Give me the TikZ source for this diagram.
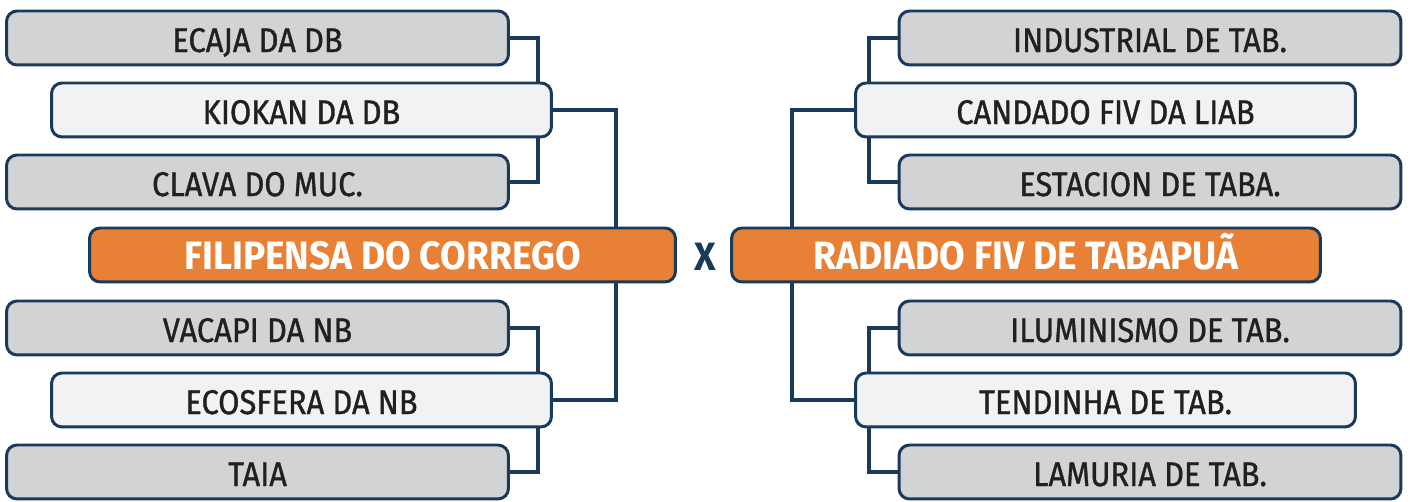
\documentclass[tikz,border=0pt]{standalone}
\usepackage{fontspec}
\setmainfont{Fira Sans}[FakeStretch=0.9, FakeBold=1]
\newfontfamily\finalfont{Fira Sans}[FakeStretch=0.94]
\usepackage{xcolor}
\usepackage{tikz}
\usetikzlibrary{backgrounds}

\definecolor{boxgray}{HTML}{D1D3D4}
\definecolor{boxlight}{HTML}{F1F2F4}
\definecolor{boxorange}{HTML}{E88135}
\definecolor{navy}{HTML}{1A3A5B}
\definecolor{ink}{HTML}{231F20}

\begin{document}
\begin{tikzpicture}[x=0.02cm, y=-0.02cm, line width=1.7pt,
    team/.style={draw=navy, rounded corners=6pt, minimum height=1.08cm,
        inner sep=0pt, outer sep=0pt, text=ink, text height=16pt, text depth=0pt,
        font=\fontsize{19.5}{20}\selectfont},
    outer/.style={team, fill=boxgray, minimum width=10.04cm},
    inner/.style={team, fill=boxlight, minimum width=10.0cm},
    final/.style={team, fill=boxorange, text=white,
        font=\finalfont\fontsize{22.5}{23}\selectfont\bfseries},
    link/.style={navy, line width=2.3pt}]

    % ==========================================
    % Frame of the picture
    % ==========================================
    \useasboundingbox (0,0) rectangle (1410,502);

    % ==========================================
    % Left side
    % ==========================================
    \node[outer] (ecaja) at (257.5,38) {ECAJA DA DB};
    \node[inner] (kiokan) at (301.5,110) {KIOKAN DA DB};
    \node[outer] (clava) at (257.5,182) {CLAVA DO MUC.};

    % Finalist
    \node[final, minimum width=11.72cm] (filipensa) at (382.5,255) {FILIPENSA DO CORREGO};

    \node[outer] (vacapi) at (257.5,328) {VACAPI DA NB};
    \node[inner] (ecosfera) at (301.5,400) {ECOSFERA DA NB};
    \node[outer] (taia) at (257.5,472) {TAIA};

    % ==========================================
    % Versus sign
    % ==========================================
    \node[text=navy, inner sep=0pt, font=\finalfont\fontsize{22.5}{23}\selectfont\bfseries] (versus) at (705,257) {X};

    % ==========================================
    % Right side
    % ==========================================
    \node[outer] (industrial) at (1150,38) {INDUSTRIAL DE TAB.};
    \node[inner] (candado) at (1105.5,110) {CANDADO FIV DA LIAB};
    \node[outer] (estacion) at (1150,182) {ESTACION DE TABA.};

    % Finalist
    \node[final, minimum width=11.78cm] (radiado) at (1026,255) {RADIADO FIV DE TABAPUÃ};

    \node[outer] (iluminismo) at (1150,328) {ILUMINISMO DE TAB.};
    \node[inner] (tendinha) at (1105.5,400) {TENDINHA DE TAB.};
    \node[outer] (lamuria) at (1150,472) {LAMURIA DE TAB.};

    % ==========================================
    % Bracket lines (behind the boxes)
    % ==========================================
    \coordinate (leftjoin) at (616,0);
    \coordinate (rightjoin) at (792,0);

    \begin{pgfonlayer}{background}
        % left brackets
        \draw[link] (ecaja.east) -- ++(30,0) |- (clava.east);
        \draw[link] (vacapi.east) -- ++(30,0) |- (taia.east);
        \draw[link] (kiokan.east) -| (leftjoin |- ecosfera.east) -- (ecosfera.east);

        % right brackets
        \draw[link] (industrial.west) -- ++(-30,0) |- (estacion.west);
        \draw[link] (iluminismo.west) -- ++(-30,0) |- (lamuria.west);
        \draw[link] (candado.west) -| (rightjoin |- tendinha.west) -- (tendinha.west);
    \end{pgfonlayer}

\end{tikzpicture}
\end{document}
